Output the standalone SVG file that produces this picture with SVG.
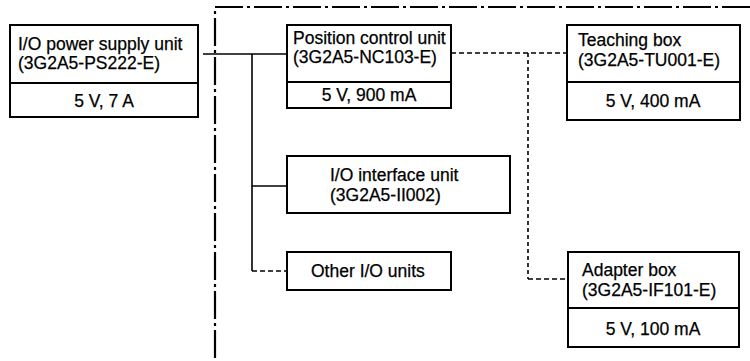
<svg xmlns="http://www.w3.org/2000/svg" width="750" height="361" viewBox="0 0 750 361">
<style>
.box{fill:#fff;stroke:#000;stroke-width:2}
.div{stroke:#000;stroke-width:2}
text{font-family:"Liberation Sans",Arial,sans-serif;font-size:17.5px;fill:#000;stroke:#000;stroke-width:0.25}
.c{text-anchor:middle}
.solid{stroke:#000;stroke-width:1.6;fill:none}
.dash{stroke:#000;stroke-width:1.6;fill:none;stroke-dasharray:5 3}
.dot{stroke:#000;stroke-width:1.6;fill:none;stroke-dasharray:4 3}
.dashdot{stroke:#000;stroke-width:2.2;fill:none;stroke-dasharray:28 4 3 4}
</style>
<rect width="750" height="361" fill="#fff"/>
<g id="connectors">
<path class="dashdot" d="M750,7 H215 V361"/>
<path class="solid" d="M203,54 H287"/>
<path class="solid" d="M252,54 V271"/>
<path class="solid" d="M252,186 H287"/>
<path class="dash" d="M252,271 H287"/>
<path class="dash" d="M451,53 H568"/>
<path class="dot" d="M528,53 V279"/>
<path class="dash" d="M528,279 H568"/>
</g>
<g id="power-supply">
<rect class="box" x="10" y="25" width="188" height="92"/>
<line class="div" x1="10" y1="83" x2="198" y2="83"/>
<text x="18" y="50">I/O power supply unit</text>
<text x="18" y="69">(3G2A5-PS222-E)</text>
<text class="c" x="104" y="107">5 V, 7 A</text>
</g>
<g id="position-control">
<rect class="box" x="287" y="25" width="164" height="83"/>
<line class="div" x1="287" y1="82" x2="451" y2="82"/>
<text x="293" y="44">Position control unit</text>
<text x="293" y="63">(3G2A5-NC103-E)</text>
<text class="c" x="369" y="101">5 V, 900 mA</text>
</g>
<g id="teaching-box">
<rect class="box" x="567" y="25" width="173" height="95"/>
<line class="div" x1="567" y1="82" x2="740" y2="82"/>
<text x="578" y="46">Teaching box</text>
<text x="578" y="66">(3G2A5-TU001-E)</text>
<text class="c" x="653" y="107">5 V, 400 mA</text>
</g>
<g id="io-interface">
<rect class="box" x="287" y="156" width="223" height="57"/>
<text x="330" y="181">I/O interface unit</text>
<text x="330" y="201">(3G2A5-II002)</text>
</g>
<g id="other-io">
<rect class="box" x="287" y="252" width="164" height="38"/>
<text x="311" y="277">Other I/O units</text>
</g>
<g id="adapter-box">
<rect class="box" x="568" y="252" width="171" height="95"/>
<line class="div" x1="568" y1="308" x2="739" y2="308"/>
<text x="582" y="276">Adapter box</text>
<text x="582" y="296">(3G2A5-IF101-E)</text>
<text class="c" x="653" y="335">5 V, 100 mA</text>
</g>
</svg>
